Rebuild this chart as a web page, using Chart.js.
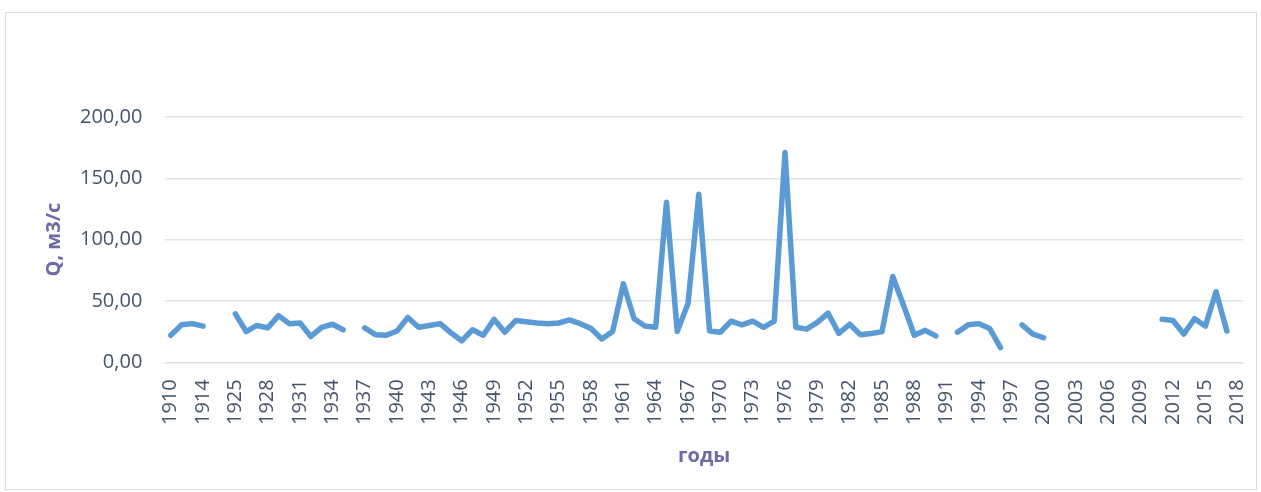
<!DOCTYPE html>
<html>
<head>
<meta charset="utf-8">
<script src="https://cdn.jsdelivr.net/npm/chart.js@4"></script>
<style>
  body { margin: 0; background: #fff; }
  #frame {
    position: absolute; left: 5px; top: 12px; width: 1250px; height: 476px;
    border: 1px solid #d9dde3;
  }
  #wrap { position: absolute; left: 0; top: 0; width: 1261px; height: 492px; }
</style>
</head>
<body>
<div id="frame"></div>
<div id="wrap"><canvas id="chartRashod" width="1261" height="492"></canvas></div>
<script>
// годы (категории оси X)
const years = [
  1910, 1912, 1913, 1914, 1915, 1924,
  1925, 1926, 1927, 1928, 1929, 1930, 1931, 1932, 1933, 1934,
  1935, 1936, 1937, 1938, 1939, 1940, 1941, 1942, 1943, 1944,
  1945, 1946, 1947, 1948, 1949, 1950, 1951, 1952, 1953, 1954,
  1955, 1956, 1957, 1958, 1959, 1960, 1961, 1962, 1963, 1964,
  1965, 1966, 1967, 1968, 1969, 1970, 1971, 1972, 1973, 1974,
  1975, 1976, 1977, 1978, 1979, 1980, 1981, 1982, 1983, 1984,
  1985, 1986, 1987, 1988, 1989, 1990, 1991, 1992, 1993, 1994,
  1995, 1996, 1997, 1998, 1999, 2000, 2001, 2002, 2003, 2004,
  2005, 2006, 2007, 2008, 2009, 2010, 2011, 2012, 2013, 2014,
  2015, 2016, 2017, 2018
];

// Q, м3/с (null = нет данных)
const rashod = [
  22, 30.5, 31.5, 29.5, null, null,
  39.5, 25, 30, 28, 38, 31.5, 32, 21, 28.5, 31,
  26.5, null, 28, 22.5, 22, 25.5, 36.5, 28.5, 30, 31.5,
  24, 17.5, 26.5, 22, 35, 24.5, 34, 33, 32, 31.5,
  32, 34.5, 31.5, 27.5, 19, 25, 64, 35.5, 29.5, 28.5,
  130.5, 25, 48, 137, 25.5, 24.5, 33.5, 30.5, 33.5, 28.5,
  33.5, 171, 28.5, 27, 32.5, 40, 23.5, 31, 22.5, 23.5,
  25, 70, 46.5, 22, 26, 21.5, null, 24.5, 30.5, 31.5,
  27.5, 12, null, 30.5, 23, 20, null, null, null, null,
  null, null, null, null, null, null, 35, 34, 23, 35.5,
  29.5, 57.5, 25.5, null
];

const yTicksMax = 200;
const yTicksStep = 50;

const textColor = "#44546a";
const titleColor = "#6e6aa6";
const gridColor = "#dfe3e8";

const ctx = document.getElementById("chartRashod").getContext("2d");
new Chart(ctx, {
  type: "line",
  data: {
    labels: years.map(String),
    datasets: [
      {
        label: "Q",
        data: rashod,
        borderColor: "#5b9bd5",
        borderWidth: 5.5,
        borderCapStyle: "round",
        borderJoinStyle: "round",
        pointRadius: 0,
        spanGaps: false,
        tension: 0,
        fill: false,
      },
    ],
  },
  options: {
    responsive: false,
    animation: false,
    devicePixelRatio: 1,
    layout: {
      padding: { left: 38, right: 18, top: 117, bottom: 14 },
    },
    plugins: {
      legend: { display: false },
      title: { display: false },
      tooltip: { enabled: false },
    },
    scales: {
      x: {
        offset: true,
        afterFit: function (scale) {
          // повернутые подписи не должны сжимать область графика
          scale.paddingLeft = 0;
          scale.paddingRight = 0;
        },
        grid: { display: false, drawTicks: false },
        border: { display: true, color: gridColor, width: 1.5 },
        ticks: {
          autoSkip: false,
          maxRotation: 90,
          minRotation: 90,
          padding: 17,
          color: textColor,
          font: { family: "Open Sans", size: 20 },
          callback: function (value, index) {
            return index % 3 === 0 ? this.getLabelForValue(value) : "";
          },
        },
        title: {
          display: true,
          text: "годы",
          color: titleColor,
          font: { family: "Open Sans", size: 20, weight: "bold" },
          padding: { top: 2, bottom: 10 },
        },
      },
      y: {
        min: 0,
        max: yTicksMax,
        grid: { color: gridColor, lineWidth: 1.5, drawTicks: false },
        border: { display: false },
        ticks: {
          stepSize: yTicksStep,
          padding: 23,
          color: textColor,
          font: { family: "Open Sans", size: 20 },
          callback: function (value) {
            return value.toFixed(2).replace(".", ",");
          },
        },
        title: {
          display: true,
          text: "Q, м3/с",
          color: titleColor,
          font: { family: "Open Sans", size: 20, weight: "bold" },
          padding: { top: 4, bottom: -9 },
        },
      },
    },
  },
});
</script>
</body>
</html>
